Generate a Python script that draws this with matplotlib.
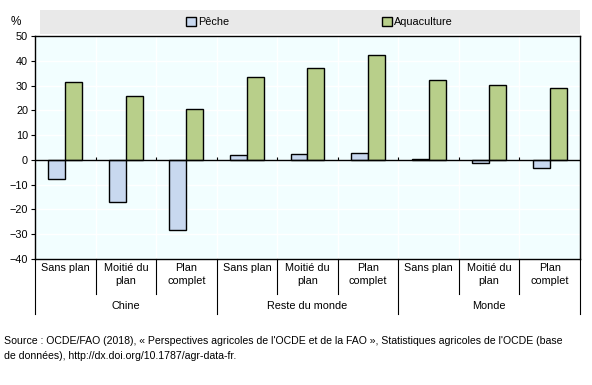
import numpy as np
import matplotlib
matplotlib.use("Agg")
import matplotlib.pyplot as plt
from matplotlib.patches import Rectangle

# ============================================================
# Données
# ============================================================
groups = ["Chine", "Reste du monde", "Monde"]
scenarios = ["Sans plan", "Moitié du\nplan", "Plan\ncomplet"]
peche = [-7.6, -16.8, -28.4, 2.0, 2.5, 2.8, 0.4, -1.2, -3.2]
aquaculture = [31.3, 25.6, 20.4, 33.3, 36.9, 42.2, 32.1, 30.1, 28.9]
yticks = [-40, -30, -20, -10, 0, 10, 20, 30, 40, 50]
source = ("Source : OCDE/FAO (2018), « Perspectives agricoles de l'OCDE et de la FAO », "
          "Statistiques agricoles de l'OCDE (base\nde données), http://dx.doi.org/10.1787/agr-data-fr.")

fs = 7.8
plt.rcParams["font.family"] = ["Liberation Sans", "DejaVu Sans"]
plt.rcParams["font.size"] = fs

c_peche = "#C8D8EF"
c_aqua = "#B8CF8A"

fig = plt.figure(figsize=(5.92, 3.85), dpi=100)
ax = fig.add_axes([35 / 592, 1 - 259 / 385, 545 / 592, 223 / 385])
ax.set_facecolor("#F2FEFF")

n = len(peche)
x = np.arange(n)
w = 0.28
ax.bar(x - w / 2, peche, w, color=c_peche, edgecolor="black", linewidth=1, label="Pêche", zorder=3)
ax.bar(x + w / 2, aquaculture, w, color=c_aqua, edgecolor="black", linewidth=1, label="Aquaculture", zorder=3)

ax.set_xlim(-0.5, n - 0.5)
ax.set_ylim(-40, 50)
ax.set_yticks(yticks)
ax.tick_params(axis="y", length=3, width=0.8, pad=2, labelsize=fs)
ax.set_xticks([])
ax.grid(axis="y", color="white", linewidth=1, zorder=0)
for b in np.arange(n + 1) - 0.5:
    ax.axvline(b, color="white", linewidth=1, zorder=0)
ax.axhline(0, color="black", linewidth=1, zorder=4)
# petites graduations sur l'axe zéro
ax.vlines(np.arange(1, n) - 0.5, 0, 1, color="black", linewidth=0.8, zorder=4)
for s in ax.spines.values():
    s.set_linewidth(1)

fig.text(16 / 592, 1 - 22 / 385, "%", ha="center", va="center", fontsize=8.5)

# étiquettes de catégories sous l'axe
tr = ax.get_xaxis_transform()
for i in range(n):
    ax.text(x[i], -0.02, scenarios[i % 3], transform=tr, ha="center", va="top",
            linespacing=1.35, fontsize=fs)
for b in np.arange(n + 1) - 0.5:
    bottom = -0.245 if (b + 0.5) % 3 == 0 else -0.158
    ax.plot([b, b], [0, bottom], transform=tr, color="black", linewidth=0.8, clip_on=False)
for g, name in enumerate(groups):
    ax.text(g * 3 + 1, -0.212, name, transform=tr, ha="center", va="center", fontsize=fs)

# légende
fig.patches.append(Rectangle((40 / 592, 1 - 34 / 385), 540 / 592, 24 / 385,
                             transform=fig.transFigure, facecolor="#E9E9E9",
                             edgecolor="none", zorder=0))
fig.legend(loc="center", bbox_to_anchor=(319.5 / 592, 1 - 22 / 385), ncol=2, frameon=False,
           handlelength=0.9, handleheight=0.9, handletextpad=0.25, columnspacing=14.05,
           fontsize=fs, borderpad=0)

fig.text(4 / 592, 1 - 348.5 / 385, source, ha="left", va="center", fontsize=7.6, linespacing=1.62)

fig.savefig("out.png", dpi=100)
